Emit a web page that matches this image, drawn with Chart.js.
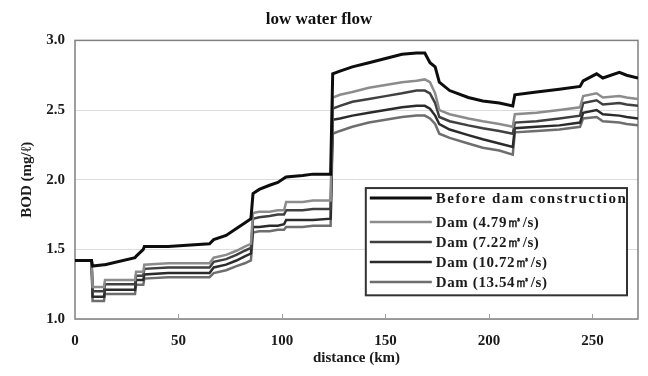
<!DOCTYPE html>
<html>
<head>
<meta charset="utf-8">
<script src="https://cdn.jsdelivr.net/npm/chart.js@4.4.0/dist/chart.umd.min.js"></script>
<style>
html, body { margin: 0; padding: 0; background: #fff; }
#wrap { width: 648px; height: 376px; }
</style>
</head>
<body>
<div id="wrap"><canvas id="bodChart"></canvas></div>
<script>
// distance along the river (km), shared by all series
var distance = [0, 8, 8.5, 14, 14.5, 29, 29.5, 33, 33.5, 45, 65, 67, 73, 78, 82, 85, 86, 89, 94, 98,
    101, 102, 110, 115, 123.5, 124.5, 128, 134, 142, 150, 158, 165, 169, 171.5, 174, 176, 181, 190, 197, 205,
    211.5, 212.5, 223, 234, 244, 245.5, 252, 255, 263, 266.5, 272];

var beforeDam = [1.42, 1.42, 1.38, 1.39, 1.39, 1.44, 1.45, 1.50, 1.52, 1.52, 1.54, 1.57, 1.60, 1.65, 1.69, 1.72, 1.90, 1.93, 1.96, 1.98,
    2.01, 2.02, 2.03, 2.04, 2.04, 2.76, 2.78, 2.81, 2.84, 2.87, 2.90, 2.91, 2.91, 2.84, 2.81, 2.70, 2.64, 2.59, 2.565, 2.55,
    2.53, 2.61, 2.63, 2.65, 2.67, 2.71, 2.76, 2.73, 2.77, 2.75, 2.73];

var dam479 = [1.42, 1.42, 1.23, 1.23, 1.28, 1.28, 1.34, 1.34, 1.39, 1.40, 1.40, 1.44, 1.46, 1.49, 1.52, 1.54, 1.76, 1.77, 1.77, 1.78,
    1.78, 1.84, 1.84, 1.85, 1.85, 2.59, 2.61, 2.63, 2.66, 2.68, 2.70, 2.71, 2.72, 2.70, 2.62, 2.50, 2.47, 2.44, 2.42, 2.40,
    2.38, 2.47, 2.48, 2.50, 2.52, 2.60, 2.62, 2.59, 2.60, 2.59, 2.58];

var dam722 = [1.42, 1.42, 1.20, 1.20, 1.25, 1.25, 1.31, 1.31, 1.36, 1.37, 1.37, 1.41, 1.43, 1.46, 1.49, 1.51, 1.72, 1.73, 1.74, 1.75,
    1.75, 1.78, 1.78, 1.79, 1.79, 2.51, 2.53, 2.56, 2.58, 2.60, 2.62, 2.64, 2.64, 2.62, 2.55, 2.45, 2.42, 2.39, 2.37, 2.35,
    2.33, 2.41, 2.42, 2.44, 2.46, 2.55, 2.57, 2.54, 2.55, 2.54, 2.53];

var dam1072 = [1.42, 1.42, 1.16, 1.16, 1.21, 1.21, 1.28, 1.28, 1.32, 1.33, 1.33, 1.37, 1.39, 1.42, 1.45, 1.47, 1.66, 1.66, 1.67, 1.67,
    1.68, 1.71, 1.71, 1.71, 1.72, 2.43, 2.44, 2.46, 2.48, 2.50, 2.52, 2.53, 2.53, 2.51, 2.46, 2.40, 2.36, 2.32, 2.29, 2.26,
    2.235, 2.37, 2.38, 2.39, 2.41, 2.48, 2.50, 2.47, 2.46, 2.45, 2.44];

var dam1354 = [1.42, 1.42, 1.13, 1.13, 1.18, 1.18, 1.245, 1.245, 1.29, 1.30, 1.30, 1.33, 1.35, 1.38, 1.40, 1.42, 1.62, 1.63, 1.63, 1.64,
    1.64, 1.66, 1.66, 1.67, 1.67, 2.33, 2.35, 2.38, 2.41, 2.43, 2.45, 2.46, 2.46, 2.44, 2.40, 2.33, 2.30, 2.26, 2.23, 2.21,
    2.18, 2.34, 2.35, 2.36, 2.38, 2.44, 2.45, 2.42, 2.41, 2.40, 2.39];

var seriesLabels = ["Before dam construction", "Dam (4.79\u33A5/s)", "Dam (7.22\u33A5/s)", "Dam (10.72\u33A5/s)", "Dam (13.54\u33A5/s)"];
var xTicks = [0, 50, 100, 150, 200, 250];
var yTicks = [1.0, 1.5, 2.0, 2.5, 3.0];

function pairUp(values) {
    return distance.map(function (d, i) { return { x: d, y: values[i] }; });
}

var serif = "'Liberation Serif', 'Times New Roman', serif";

var framePlugin = {
    id: 'frame',
    beforeDatasetsDraw: function (chart) {
        var ctx = chart.ctx, a = chart.chartArea, xs = chart.scales.x;
        ctx.save();
        ctx.strokeStyle = '#808080';
        ctx.lineWidth = 1.5;
        ctx.strokeRect(a.left, a.top, a.right - a.left, a.bottom - a.top);
        ctx.lineWidth = 1;
        ctx.strokeStyle = '#a0a0a0';
        xTicks.forEach(function (v) {
            if (v === 0) return;
            var px = Math.round(xs.getPixelForValue(v)) + 0.5;
            ctx.beginPath();
            ctx.moveTo(px, a.bottom);
            ctx.lineTo(px, a.bottom - 5);
            ctx.stroke();
        });
        ctx.restore();
    },
    afterDatasetsDraw: function (chart) {
        var ctx = chart.ctx, a = chart.chartArea, xs = chart.scales.x, ys = chart.scales.y;
        var left = xs.getPixelForValue(140.5), right = a.right - 11;
        var top = ys.getPixelForValue(1.94), bottom = ys.getPixelForValue(1.17);
        ctx.save();
        ctx.fillStyle = '#fff';
        ctx.fillRect(left, top, right - left, bottom - top);
        ctx.strokeStyle = '#333';
        ctx.lineWidth = 2;
        ctx.strokeRect(left, top, right - left, bottom - top);
        var rows = [10, 34, 54, 74, 94];
        ctx.textBaseline = 'middle';
        ctx.fillStyle = '#1a1a1a';
        chart.data.datasets.forEach(function (ds, i) {
            var y = top + rows[i];
            ctx.strokeStyle = ds.borderColor;
            ctx.lineWidth = ds.borderWidth;
            ctx.beginPath();
            ctx.moveTo(left + 4, y);
            ctx.lineTo(left + 66, y);
            ctx.stroke();
            ctx.font = "bold 15px " + serif;
            if (i === 0) {
                ctx.letterSpacing = '0px';
                var w = ctx.measureText(ds.label).width;
                var n = ds.label.length - 1;
                ctx.letterSpacing = ((190 - w) / n).toFixed(2) + 'px';
            } else {
                ctx.letterSpacing = '0.6px';
            }
            ctx.fillText(ds.label, left + 70, y + 1);
        });
        ctx.restore();
    }
};

var ctx = document.getElementById("bodChart").getContext("2d");
var bodChart = new Chart(ctx, {
    type: 'line',
    data: {
        datasets: [
            { label: seriesLabels[0], data: pairUp(beforeDam), borderColor: '#0d0d0d', borderWidth: 3 },
            { label: seriesLabels[1], data: pairUp(dam479), borderColor: '#8c8c8c', borderWidth: 2.5 },
            { label: seriesLabels[2], data: pairUp(dam722), borderColor: '#404040', borderWidth: 2.5 },
            { label: seriesLabels[3], data: pairUp(dam1072), borderColor: '#2b2b2b', borderWidth: 2.5 },
            { label: seriesLabels[4], data: pairUp(dam1354), borderColor: '#6e6e6e', borderWidth: 2.5 }
        ]
    },
    options: {
        responsive: true,
        maintainAspectRatio: false,
        animation: false,
        layout: { padding: { left: 0, right: 10, top: 0, bottom: 0 } },
        elements: { point: { radius: 0 }, line: { tension: 0, borderJoinStyle: 'miter', fill: false } },
        plugins: {
            legend: { display: false },
            tooltip: { enabled: false },
            title: {
                display: true,
                text: 'low water flow',
                color: '#111',
                font: { family: serif, size: 17, weight: 'bold' },
                padding: { top: 9, bottom: 11 }
            }
        },
        scales: {
            x: {
                type: 'linear',
                min: 0,
                max: 272,
                afterBuildTicks: function (scale) { scale.ticks = xTicks.map(function (v) { return { value: v }; }); },
                afterFit: function (scale) { scale.height = 57; },
                grid: { display: false },
                border: { display: false },
                ticks: { padding: 5, color: '#1a1a1a', font: { family: serif, size: 15, weight: 'bold' }, maxRotation: 0 },
                title: { display: true, text: 'distance (km)', color: '#1a1a1a', font: { family: serif, size: 15, weight: 'bold' }, padding: { top: 0, bottom: 9 } }
            },
            y: {
                min: 1,
                max: 3,
                afterBuildTicks: function (scale) { scale.ticks = yTicks.map(function (v) { return { value: v }; }); },
                afterFit: function (scale) { scale.width = 75; },
                grid: { color: '#dcdcdc', lineWidth: 1, drawTicks: false },
                border: { display: false },
                ticks: { padding: 10, color: '#1a1a1a', font: { family: serif, size: 15, weight: 'bold' },
                    callback: function (v) { return Number(v).toFixed(1); } },
                title: { display: true, text: 'BOD (mg/\u2113)', color: '#1a1a1a', font: { family: serif, size: 15, weight: 'bold' }, padding: { top: 18, bottom: 0 } }
            }
        }
    },
    plugins: [framePlugin]
});
</script>
</body>
</html>
